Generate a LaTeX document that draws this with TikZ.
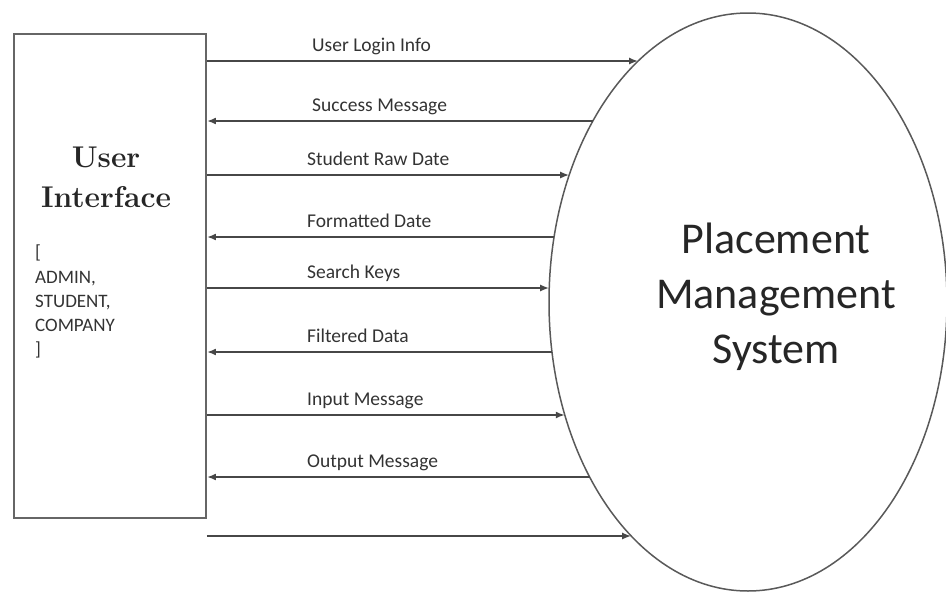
\documentclass[tikz,border=0pt]{standalone}
\usepackage{fontspec}
\newfontfamily\calibri{Carlito}
\usetikzlibrary{shapes.geometric,arrows.meta}

\begin{document}
\begin{tikzpicture}[
    x=1pt, y=-1pt,
    every node/.style={inner sep=0pt},
    flow/.style={draw=black!72, line width=1.9pt},
    flow-in/.style={flow, -{Latex[length=9pt,width=7pt]}},
    flow-out/.style={flow, {Latex[length=9pt,width=7pt]}-},
    flowlabel/.style={font=\calibri\fontsize{19.5}{23}\selectfont, text=black!80, anchor=base west},
    rolelabel/.style={font=\calibri\fontsize{19}{22}\selectfont, text=black!80, anchor=base west}
]
  \useasboundingbox (0,0) rectangle (946,592);

  % external entity and process
  \node[draw=black!60, line width=1.9pt, minimum width=192pt, minimum height=484pt] (ui) at (110,276) {};
  \node[ellipse, draw=black!65, line width=1.5pt, minimum width=398pt, minimum height=578pt] (pms) at (748,302) {};

  \node[font=\fontsize{30}{40}\selectfont\bfseries, text=black!85, anchor=base] (uiname) at (106,167) {User};
  \node[font=\fontsize{30}{40}\selectfont\bfseries, text=black!85, anchor=base] (uiname2) at (106,207) {Interface};

  \foreach \i/\y/\role in {1/258/[, 2/283/{ADMIN,}, 3/307/{STUDENT,}, 4/331/COMPANY, 5/355/]} {
    \node[rolelabel] (role\i) at (35,\y) {\role};
  }

  \node[font=\calibri\fontsize{44}{55}\selectfont, text=black!85, align=center] (pmsname) at (776,297)
    {Placement\\Management\\System};

  % data flows, ending on the ellipse border
  \foreach \y/\dir/\lx/\txt in {%
    61/in/312/User Login Info, 121/out/312/Success Message,
    175/in/307/Student Raw Date, 237/out/307/Formatted Date,
    288/in/307/Search Keys, 352/out/307/Filtered Data,
    415/in/307/Input Message, 477/out/307/Output Message}{
    \pgfmathsetmacro\ex{748-199*sqrt(1-((\y-302)/289)^2)}
    \coordinate (e\y) at (\ex,\y);
    \draw[flow-\dir] (ui.east |- e\y) -- (e\y);
    \node[flowlabel] (l\y) at (\lx,\y-10) {\txt};
  }

  \pgfmathsetmacro\ex{748-199*sqrt(1-((536-302)/289)^2)}
  \coordinate (e536) at (\ex,536);
  \draw[flow-in] (ui.east |- e536) -- (e536);
\end{tikzpicture}
\end{document}
